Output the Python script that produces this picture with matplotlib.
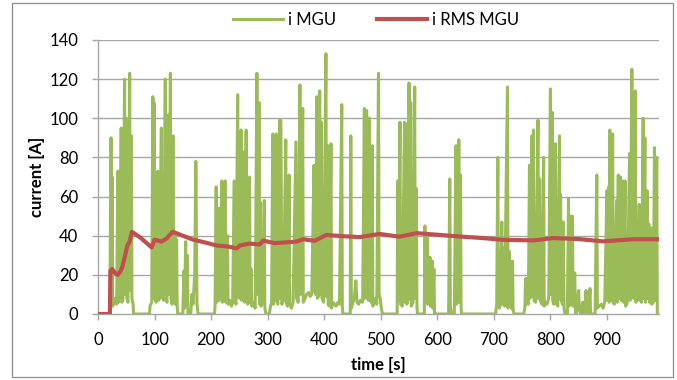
import matplotlib
matplotlib.use("Agg")
import matplotlib.pyplot as plt
from matplotlib.patches import Rectangle

plt.rcParams['font.family'] = ['Lato', 'DejaVu Sans']

# i MGU: (time [s], current [A])
mgu_t = [0, 20, 21, 23, 24, 25, 26, 28, 30, 33, 35, 36, 38, 39, 41, 42, 44, 47, 48, 50, 51, 53, 56, 57, 59, 60, 62, 63,
         91, 92, 95, 97, 98, 99, 100, 103, 106, 107, 109, 112, 113, 116, 119, 120, 122, 125, 126, 128, 129, 131, 133,
         134, 136, 137, 139, 140, 141, 150, 152, 153, 155, 156, 158, 159, 164, 166, 168, 171, 173, 174, 175, 177,
         206, 207, 209, 210, 212, 214, 215, 219, 220, 222, 225, 226, 229, 230, 233, 236, 238, 241, 242, 244, 247,
         248, 250, 253, 254, 256, 257, 259, 262, 263, 265, 268, 269, 271, 272, 274, 278, 281, 282, 285, 286, 287,
         288, 291, 294, 295, 297, 303, 305, 307, 309, 310, 312, 315, 316, 318, 321, 322, 323, 324, 325, 328, 332,
         333, 335, 338, 339, 342, 345, 350, 351, 354, 357, 358, 362, 363, 366, 369, 372, 375, 378, 382, 383, 385,
         387, 388, 390, 392, 393, 395, 396, 399, 403, 404, 406, 407, 409, 412, 413, 415, 418, 421, 424, 427, 431,
         432, 433, 446, 447, 448, 450, 453, 456, 458, 461, 464, 468, 471, 472, 475, 476, 478, 480, 481, 483, 485,
         486, 488, 491, 493, 496, 497, 499, 501, 503, 529, 530, 531, 534, 535, 538, 542, 543, 545, 546, 548, 550,
         551, 553, 554, 557, 560, 561, 563, 564, 565, 577, 578, 579, 582, 583, 587, 588, 591, 592, 594, 595, 620,
         622, 623, 625, 630, 633, 634, 636, 638, 639, 641, 642, 643, 703, 705, 707, 708, 709, 710, 712, 714, 715,
         718, 719, 724, 725, 727, 728, 730, 731, 733, 734, 736, 753, 755, 756, 757, 758, 759, 761, 763, 764, 767,
         768, 770, 771, 774, 778, 779, 781, 782, 785, 788, 789, 791, 794, 797, 800, 801, 803, 804, 806, 809, 810,
         813, 816, 817, 818, 819, 820, 821, 823, 824, 826, 830, 832, 833, 836, 837, 839, 840, 843, 844, 845, 847,
         850, 851, 854, 857, 859, 861, 863, 864, 866, 868, 870, 871, 879, 882, 883, 886, 890, 893, 896, 900, 901,
         903, 904, 905, 906, 908, 910, 911, 913, 917, 918, 920, 921, 924, 925, 928, 929, 932, 933, 936, 940, 941,
         944, 945, 946, 947, 950, 951, 954, 957, 958, 960, 961, 964, 965, 967, 968, 971, 972, 974, 975, 978, 979,
         982, 984, 985, 988, 989, 992]
mgu_v = [0, 0, 3, 90, 5, 70, 4, 6, 8, 5, 73, 6, 73, 8, 95, 6, 7, 120, 10, 100, 8, 6, 123, 12, 91, 8, 5, 0,
         0, 4, 6, 111, 10, 108, 8, 6, 73, 7, 8, 95, 9, 7, 120, 8, 6, 102, 10, 123, 8, 5, 91,
         6, 40, 5, 38, 4, 0, 0, 22, 3, 37, 4, 30, 0, 0, 10, 5, 20, 78, 44, 5, 0,
         0, 4, 65, 6, 8, 54, 7, 68, 6, 8, 68, 6, 40, 5, 7, 4, 6, 68, 8, 5, 112,
         10, 8, 94, 7, 83, 9, 6, 94, 8, 5, 70, 6, 23, 4, 6, 3, 123, 10, 108, 5, 57,
         4, 6, 58, 3, 0, 0, 4, 6, 92, 5, 8, 92, 7, 5, 99, 8, 99, 67, 5, 7, 89,
         6, 4, 71, 5, 3, 6, 88, 8, 6, 117, 10, 105, 6, 8, 10, 11, 9, 10, 76, 12, 10,
         111, 8, 9, 114, 10, 98, 8, 6, 133, 9, 86, 5, 4, 87, 3, 6, 5, 4, 6, 5, 107,
         4, 0, 0, 91, 3, 5, 8, 17, 6, 5, 7, 6, 105, 8, 104, 10, 7, 100, 9, 6, 86,
         4, 6, 8, 5, 123, 10, 8, 3, 0, 0, 68, 7, 98, 5, 4, 98, 6, 97, 5, 7, 118,
         8, 108, 4, 6, 116, 8, 64, 3, 0, 0, 45, 6, 39, 5, 29, 4, 27, 3, 23, 0, 0,
         69, 4, 0, 0, 86, 5, 7, 89, 6, 71, 3, 0, 0, 5, 80, 4, 32, 3, 6, 47, 5,
         34, 4, 116, 3, 32, 4, 27, 3, 27, 2, 0, 0, 4, 18, 5, 18, 6, 5, 76, 8, 91,
         9, 94, 7, 6, 99, 8, 69, 7, 5, 80, 4, 6, 5, 8, 115, 10, 103, 7, 5, 87, 6,
         4, 91, 8, 61, 7, 47, 5, 47, 3, 0, 0, 59, 4, 50, 5, 50, 4, 21, 3, 0, 4,
         12, 2, 0, 6, 0, 4, 12, 2, 0, 3, 13, 0, 0, 71, 3, 4, 5, 3, 6, 63, 7,
         65, 6, 94, 8, 7, 92, 6, 5, 58, 6, 71, 8, 70, 7, 68, 6, 68, 4, 6, 82, 7,
         125, 10, 44, 8, 114, 6, 8, 56, 7, 39, 6, 100, 8, 90, 6, 63, 8, 46, 6, 44, 5,
         6, 85, 7, 80, 0, 0]

# i RMS MGU
rms_t = [0, 21, 22, 25, 30, 35, 40, 43, 48, 52, 56, 60, 75, 95, 100, 112, 121, 132, 150, 168, 190, 210, 230, 245,
         251, 268, 286, 292, 312, 351, 363, 383, 404, 430, 463, 498, 533, 564, 604, 640, 680, 716, 770, 805, 850,
         893, 946, 994]
rms_v = [0, 0, 22, 23, 21, 20, 22, 24, 30, 35, 37, 42, 39, 34, 38, 37, 38.5, 42, 40, 38, 36.5, 35, 34.5, 33.5,
         35, 36, 35.5, 37.5, 36.2, 37, 38.2, 37.4, 40.4, 39.8, 39.3, 40.9, 39.5, 41.3, 40.4, 39.6, 38.8, 37.9,
         37.6, 38.8, 38.3, 37.1, 38.2, 38.2]

y_ticks = [0, 20, 40, 60, 80, 100, 120, 140]
x_ticks = [0, 100, 200, 300, 400, 500, 600, 700, 800, 900]

W, H = 677, 380
fig = plt.figure(figsize=(W / 100, H / 100), dpi=100)
fig.patches.append(Rectangle((12 / W, 3 / H), 661 / W, 374 / H, transform=fig.transFigure,
                             fill=False, edgecolor='#8C8C8C', linewidth=0.9))
ax = fig.add_axes([98 / W, 1 - 314 / H, (659 - 98) / W, (314 - 40) / H])

grid_c = '#A6A6A6'
for yv in y_ticks[1:]:
    ax.axhline(yv, color=grid_c, linewidth=1.0, zorder=0)

ax.plot(mgu_t, mgu_v, color='#9BBB59', linewidth=2.2, label='i MGU', zorder=2)
ax.plot(rms_t, rms_v, color='#C0504D', linewidth=3.0, label='i RMS MGU', zorder=3)

ax.set_xlim(0, 992)
ax.set_ylim(0, 140)
ax.set_xticks(x_ticks)
ax.set_yticks(y_ticks)
ax.tick_params(axis='both', length=4.3, width=1.0, color=grid_c, labelsize=12, labelcolor='black')
ax.tick_params(axis='y', pad=10)
ax.tick_params(axis='x', pad=9)
for s in ['top', 'right']:
    ax.spines[s].set_visible(False)
for s in ['left', 'bottom']:
    ax.spines[s].set_color(grid_c)
    ax.spines[s].set_linewidth(1.0)

ax.set_xlabel('time [s]', fontsize=12, fontweight='bold', labelpad=6)
ax.set_ylabel('current [A]', fontsize=12, fontweight='bold', labelpad=3)

leg = fig.legend(loc='center', bbox_to_anchor=(376 / W, 1 - 20 / H), ncol=2, frameon=False,
                 fontsize=12, handlelength=3.0, handletextpad=0.3, columnspacing=2.5)

fig.savefig('out.png', dpi=100)
